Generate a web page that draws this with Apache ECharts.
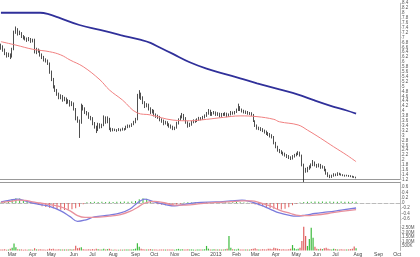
<!DOCTYPE html>
<html><head><meta charset="utf-8">
<script src="https://cdn.jsdelivr.net/npm/echarts/dist/echarts.min.js"></script>
<style>html,body{margin:0;padding:0;background:#fff}#c{width:420px;height:257px}</style>
</head><body><div id="c"></div><script>
// ---- data ----
const startDate = '2012-02-15';
const endDate = '2013-10-04';
const monthLabels = ['Jan','Feb','Mar','Apr','May','Jun','Jul','Aug','Sep','Oct','Nov','Dec'];
// [open, close, low, high], one candle per two trading days
const ohlc = [
[6.65,6.6,6.5,6.75],[6.6,6.5,6.42,6.68],[6.5,6.35,6.28,6.55],[6.35,6.25,6.18,6.4],[6.25,6.3,6.2,6.38],
[6.3,6.2,6.12,6.35],[6.2,6.5,6.18,6.58],[6.5,7.2,6.48,7.28],[7.2,7.35,7.15,7.45],[7.35,7.15,7.08,7.38],
[7.15,7.2,7.1,7.28],[7.2,7.05,6.98,7.22],[7.05,7.0,6.92,7.1],[7.0,6.95,6.88,7.05],[6.95,6.9,6.82,7.0],
[6.9,6.95,6.85,7.02],[6.95,6.85,6.78,6.98],[6.85,6.9,6.8,6.95],[6.9,6.4,6.35,6.95],[6.4,6.5,6.32,6.58],
[6.5,6.45,6.38,6.55],[6.45,6.3,6.22,6.5],[6.3,6.2,6.12,6.35],[6.2,6.1,6.02,6.25],[6.1,6.05,5.98,6.15],
[6.05,5.95,5.88,6.1],[5.95,5.6,5.52,5.98],[5.6,5.3,5.22,5.65],[5.3,5.0,4.92,5.35],[5.0,4.85,4.78,5.05],
[4.85,4.7,4.62,4.9],[4.7,4.55,4.48,4.75],[4.55,4.6,4.48,4.68],[4.6,4.45,4.38,4.65],[4.45,4.5,4.4,4.58],
[4.5,4.35,4.28,4.55],[4.35,4.4,4.3,4.48],[4.4,4.25,4.18,4.45],[4.25,4.3,4.2,4.4],[4.3,4.1,4.02,4.35],
[4.1,3.7,3.62,4.12],[3.7,3.6,3.52,3.78],[3.6,3.5,2.9,3.65],[3.5,4.2,3.48,4.3],[4.2,4.1,4.02,4.25],
[4.1,3.95,3.88,4.15],[3.95,3.9,3.82,4.0],[3.9,3.75,3.68,3.95],[3.75,3.7,3.62,3.8],[3.7,3.5,3.42,3.75],
[3.5,3.35,3.28,3.55],[3.35,3.2,3.1,3.4],[3.2,3.45,3.18,3.52],[3.45,3.35,3.28,3.5],[3.35,3.4,3.3,3.48],
[3.4,3.75,3.38,3.82],[3.75,3.55,3.48,3.78],[3.55,3.7,3.5,3.78],[3.7,3.3,3.22,3.72],[3.3,3.2,3.15,3.32],
[3.2,3.25,3.17,3.3],[3.25,3.22,3.18,3.28],[3.22,3.2,3.15,3.26],[3.2,3.25,3.18,3.3],[3.25,3.22,3.17,3.28],
[3.22,3.28,3.2,3.32],[3.28,3.25,3.2,3.3],[3.25,3.35,3.23,3.4],[3.35,3.4,3.3,3.45],[3.4,3.38,3.32,3.44],
[3.38,3.45,3.35,3.5],[3.45,3.55,3.42,3.6],[3.55,3.65,3.5,3.72],[3.65,4.6,3.62,4.7],[4.6,4.7,4.5,4.85],
[4.7,4.55,4.45,4.75],[4.55,4.35,4.28,4.6],[4.35,4.2,4.12,4.4],[4.2,4.25,4.15,4.32],[4.25,4.1,4.02,4.3],
[4.1,3.95,3.88,4.15],[3.95,4.0,3.9,4.08],[4.0,3.85,3.78,4.05],[3.85,3.8,3.72,3.9],[3.8,3.75,3.68,3.85],
[3.75,3.65,3.58,3.8],[3.65,3.6,3.52,3.7],[3.6,3.5,3.42,3.65],[3.5,3.55,3.45,3.6],[3.55,3.45,3.38,3.58],
[3.45,3.4,3.32,3.5],[3.4,3.35,3.28,3.45],[3.35,3.28,3.22,3.4],[3.28,3.3,3.22,3.36],[3.3,3.5,3.28,3.56],
[3.5,3.65,3.45,3.7],[3.65,3.75,3.6,3.82],[3.75,3.85,3.7,3.92],[3.85,3.7,3.62,3.88],[3.7,3.55,3.48,3.75],
[3.55,3.4,3.32,3.58],[3.4,3.45,3.35,3.52],[3.45,3.55,3.4,3.6],[3.55,3.6,3.5,3.66],[3.6,3.58,3.52,3.65],
[3.58,3.65,3.55,3.7],[3.65,3.7,3.6,3.76],[3.7,3.68,3.62,3.75],[3.68,3.75,3.64,3.8],[3.75,3.8,3.7,3.86],
[3.8,3.9,3.76,3.96],[3.9,4.0,3.85,4.08],[4.0,3.85,3.8,4.05],[3.85,3.9,3.8,3.96],[3.9,3.95,3.86,4.0],
[3.95,3.85,3.8,3.98],[3.85,3.9,3.8,3.95],[3.9,3.8,3.74,3.93],[3.8,3.88,3.76,3.92],[3.88,3.85,3.8,3.92],
[3.85,3.9,3.8,3.95],[3.9,3.8,3.75,3.93],[3.8,3.85,3.76,3.9],[3.85,3.95,3.82,4.0],[3.95,3.9,3.85,3.98],
[3.9,3.95,3.86,4.0],[3.95,4.05,3.92,4.1],[4.05,4.15,4.0,4.3],[4.15,4.05,4.0,4.2],[4.05,4.0,3.94,4.1],
[4.0,3.95,3.9,4.05],[3.95,3.95,3.88,4.02],[3.95,3.9,3.85,4.0],[3.9,3.9,3.84,3.96],[3.9,3.85,3.8,3.95],
[3.85,3.6,3.55,3.88],[3.6,3.4,3.35,3.62],[3.4,3.3,3.24,3.45],[3.3,3.3,3.22,3.36],[3.3,3.25,3.18,3.34],
[3.25,3.2,3.14,3.3],[3.2,3.15,3.08,3.24],[3.15,3.1,3.02,3.2],[3.1,3.05,2.98,3.14],[3.05,3.0,2.92,3.1],
[3.0,2.95,2.88,3.05],[2.95,2.7,2.64,2.98],[2.7,2.55,2.48,2.74],[2.55,2.4,2.34,2.58],[2.4,2.35,2.28,2.45],
[2.35,2.3,2.24,2.4],[2.3,2.25,2.18,2.34],[2.25,2.2,2.14,2.3],[2.2,2.15,2.08,2.24],[2.15,2.1,2.04,2.2],
[2.1,2.05,2.0,2.15],[2.05,2.15,2.02,2.2],[2.15,2.2,2.1,2.25],[2.2,2.25,2.15,2.3],[2.25,2.3,2.2,2.36],
[2.3,2.2,2.14,2.34],[2.2,1.8,1.74,2.22],[1.8,1.6,1.1,1.85],[1.6,1.55,1.48,1.68],[1.55,1.65,1.5,1.72],
[1.65,1.7,1.6,1.78],[1.7,1.8,1.66,1.86],[1.8,1.9,1.75,2.0],[1.9,1.8,1.74,1.94],[1.8,1.75,1.68,1.84],
[1.75,1.8,1.7,1.86],[1.8,1.7,1.64,1.84],[1.7,1.72,1.65,1.78],[1.72,1.6,1.54,1.75],[1.6,1.45,1.4,1.64],
[1.45,1.35,1.3,1.5],[1.35,1.3,1.26,1.4],[1.3,1.35,1.27,1.4],[1.35,1.4,1.32,1.46],[1.4,1.38,1.34,1.45],
[1.38,1.45,1.35,1.5],[1.45,1.42,1.38,1.48],[1.42,1.4,1.36,1.45],[1.4,1.38,1.34,1.42],[1.38,1.36,1.32,1.4],
[1.36,1.37,1.33,1.4],[1.37,1.35,1.31,1.39],[1.35,1.33,1.3,1.38],[1.33,1.32,1.28,1.36],[1.32,1.3,1.27,1.34],
[1.26,1.28,1.25,1.32]
];
const volume = [
0.12,0.1,0.15,0.08,0.1,0.2,0.3,0.78,0.35,0.15,
0.1,0.12,0.08,0.1,0.09,0.12,0.1,0.08,0.25,0.12,
0.1,0.15,0.12,0.1,0.09,0.12,0.2,0.15,0.18,0.12,
0.1,0.15,0.12,0.1,0.11,0.12,0.1,0.14,0.12,0.15,
0.53,0.25,0.3,0.35,0.15,0.12,0.1,0.14,0.12,0.15,
0.12,0.18,0.15,0.1,0.12,0.2,0.12,0.15,0.18,0.1,
0.08,0.1,0.09,0.08,0.1,0.09,0.1,0.12,0.1,0.11,
0.12,0.15,0.2,0.8,0.4,0.2,0.15,0.12,0.1,0.12,
0.15,0.1,0.12,0.1,0.09,0.12,0.1,0.11,0.1,0.12,
0.1,0.12,0.1,0.09,0.15,0.18,0.12,0.15,0.1,0.12,
0.14,0.1,0.12,0.1,0.09,0.1,0.12,0.1,0.11,0.15,
0.5,0.2,0.12,0.1,0.15,0.12,0.1,0.12,0.1,0.12,
0.15,0.2,1.58,0.3,0.15,0.12,0.1,0.2,0.12,0.1,
0.12,0.1,0.12,0.1,0.15,0.2,0.25,0.15,0.12,0.1,
0.15,0.12,0.1,0.18,0.2,0.15,0.3,0.25,0.2,0.15,
0.12,0.15,0.1,0.12,0.15,0.2,0.6,0.25,0.15,0.2,
0.3,1.05,2.6,1.6,0.5,1.25,2.5,1.4,0.4,0.2,
0.15,0.2,0.15,0.25,0.3,0.2,0.15,0.12,0.2,0.15,
0.12,0.1,0.15,0.1,0.12,0.1,0.12,0.15,0.2,0.45,
0.24631
];
// long moving average (blue) read at candle indices
const maSlowIdx = [0,21,25,32,42,53,64,75,80,85,92,101,110,119,128,137,149,159,167,176,185,190];
const maSlowVal = [8.01,8.01,7.96,7.78,7.51,7.31,7.1,6.9,6.78,6.59,6.33,5.99,5.73,5.53,5.33,5.13,4.88,4.67,4.45,4.22,4.02,3.8903];
// medium moving average (red)
const maFastIdx = [0,8,17,26,32,37,44,53,58,65,73,80,92,101,110,119,128,137,146,149,159,164,171,178,185,190];
const maFastVal = [6.83,6.69,6.52,6.42,6.29,6.08,5.81,5.27,4.86,4.45,3.92,3.84,3.63,3.6,3.66,3.74,3.8,3.77,3.66,3.56,3.43,3.22,2.89,2.54,2.2,1.9315];
// MACD panel
const macdIdx = [0,5,9,13,17,21,26,32,37,41,45,50,58,64,69,73,77,82,88,93,99,107,115,123,129,134,139,144,149,155,158,163,168,175,182,190];
const macdVal = [0.04,0.11,0.15,0.08,0.0,-0.06,-0.13,-0.3,-0.52,-0.7,-0.65,-0.53,-0.46,-0.38,-0.23,0.0,0.15,0.04,-0.06,-0.11,-0.04,0.02,0.04,0.08,0.11,0.04,-0.08,-0.23,-0.38,-0.48,-0.5,-0.46,-0.4,-0.34,-0.27,-0.19];
const signalVal = [0.02,0.06,0.11,0.1,0.04,0.0,-0.06,-0.15,-0.3,-0.48,-0.55,-0.55,-0.5,-0.44,-0.32,-0.17,0.0,0.06,0.0,-0.08,-0.08,-0.02,0.02,0.05,0.08,0.08,0.0,-0.11,-0.27,-0.4,-0.46,-0.48,-0.46,-0.4,-0.32,-0.2503];
// histogram at every second candle (indices 0,2,4,...,190)
const histVal = [
0.02,0.05,0.1,0.15,0.18,0.17,0.1,0.04,0.0,-0.04,
-0.08,-0.12,-0.15,-0.18,-0.2,-0.23,-0.26,-0.27,-0.26,-0.24,
-0.2,-0.14,-0.05,0.03,0.04,0.05,0.04,0.05,0.04,0.05,
0.04,0.05,0.05,0.06,0.05,0.06,0.08,0.14,0.18,0.16,
0.08,-0.01,-0.05,-0.07,-0.09,-0.09,-0.08,-0.06,-0.03,0.02,
0.03,0.02,0.03,0.02,0.03,0.04,0.03,0.02,0.03,0.02,
0.03,0.02,0.03,0.04,0.03,0.02,0.01,-0.02,-0.06,-0.09,
-0.12,-0.15,-0.19,-0.22,-0.25,-0.25,-0.22,-0.16,-0.09,-0.03,
0.02,0.04,0.05,0.05,0.06,0.05,0.06,0.05,0.06,0.05,
0.05,0.06,0.05,0.05,0.05,0.0502
];

// ---- categories: every second trading day ----
const categories = [];
(function () {
  let d = new Date(startDate + 'T00:00:00Z');
  const end = new Date(endDate + 'T00:00:00Z');
  let k = 0;
  while (d <= end) {
    const wd = d.getUTCDay();
    if (wd !== 0 && wd !== 6) { if (k % 2 === 0) categories.push(d.toISOString().slice(0, 10)); k++; }
    d = new Date(d.getTime() + 86400000);
  }
})();

const pairs = (idx, val) => idx.map((x, i) => [x, val[i]]);
const histData = histVal.map((v, i) => [i * 2, v]);
const last = a => a[a.length - 1];
const FS = 4.5;
const FF = 'Liberation Sans';

function endTag(value, text, bg, fg) {
  return {
    silent: true, symbol: ['none', 'none'], animation: false,
    lineStyle: { opacity: 0 },
    label: { show: true, position: 'end', distance: 1, formatter: text, backgroundColor: bg, color: fg,
      fontSize: FS, fontFamily: FF, padding: [1, 1.5] },
    data: [{ yAxis: value }]
  };
}

const monthStart = (idx) => idx > 0 && categories[idx].slice(5, 7) !== categories[idx - 1].slice(5, 7);
const hidden = { show: false };
const commonX = (gi) => ({ type: 'category', gridIndex: gi, data: categories, boundaryGap: true,
  axisLabel: hidden, axisTick: hidden, splitLine: hidden });

const chart = echarts.init(document.getElementById('c'), null, { renderer: 'canvas' });
chart.setOption({
  animation: false,
  backgroundColor: '#fff',
  textStyle: { fontFamily: FF },
  grid: [
    { left: 0, right: 20, top: 3.2, height: 176.4 },
    { left: 0, right: 20, top: 182, height: 42 },
    { left: 0, right: 20, top: 225, height: 26.7 }
  ],
  xAxis: [
    Object.assign(commonX(0), { axisLine: { lineStyle: { color: '#999', width: 1 } } }),
    Object.assign(commonX(1), { axisLine: { lineStyle: { color: '#bbb', type: 'dashed', width: 1 } } }),
    Object.assign(commonX(2), {
      axisLine: { show: false },
      axisTick: { show: false },
      axisLabel: { show: true, interval: (i) => monthStart(i), fontSize: 5, color: '#444', margin: 1.5,
        formatter: (v) => { const m = +v.slice(5, 7); return m === 1 ? v.slice(0, 4) : monthLabels[m - 1]; } }
    }),
    Object.assign(commonX(1), { position: 'top', axisLine: { lineStyle: { color: '#999', width: 1 } } })
  ],
  yAxis: [
    { type: 'value', gridIndex: 0, position: 'right', min: 1.2, max: 8.4, interval: 0.2,
      axisLine: { show: true, lineStyle: { color: '#bbb' } }, axisTick: { show: true, length: 1.5, lineStyle: { color: '#bbb' } },
      splitLine: hidden,
      axisLabel: { fontSize: FS, color: '#555', margin: 2, formatter: v => String(+v.toFixed(1)) } },
    { type: 'value', gridIndex: 1, position: 'right', min: -0.8, max: 0.8, interval: 0.2,
      axisLine: { show: true, lineStyle: { color: '#bbb' } }, axisTick: { show: true, length: 1.5, lineStyle: { color: '#bbb' } },
      splitLine: hidden,
      axisLabel: { fontSize: FS, color: '#555', margin: 2, showMinLabel: false, showMaxLabel: false, formatter: v => String(+v.toFixed(1)) } },
    { type: 'value', gridIndex: 2, position: 'right', min: 0, max: 2.8, interval: 0.5,
      axisLine: { show: true, lineStyle: { color: '#bbb' } }, axisTick: { show: true, length: 1.5, lineStyle: { color: '#bbb' } },
      splitLine: hidden,
      axisLabel: { fontSize: FS, color: '#555', margin: 2, showMinLabel: false,
        formatter: v => v >= 1 ? v.toFixed(2) + 'M' : (v * 1000).toFixed(0) + 'K' } }
  ],
  series: [
    { type: 'candlestick', name: 'price', xAxisIndex: 0, yAxisIndex: 0, data: ohlc, barWidth: 1.2, clip: true,
      itemStyle: { color: '#ffffff', color0: '#222', borderColor: '#222', borderColor0: '#222', borderWidth: 0.8 },
      markLine: endTag(last(ohlc)[1], last(ohlc)[1].toFixed(2), '#f5c518', '#000') },
    { type: 'line', name: 'MA slow', xAxisIndex: 0, yAxisIndex: 0, data: pairs(maSlowIdx, maSlowVal),
      smooth: 0.4, symbol: 'none', lineStyle: { color: '#30309a', width: 1.8 },
      markLine: endTag(last(maSlowVal), last(maSlowVal).toFixed(4), '#c9c9f2', '#2e3192') },
    { type: 'line', name: 'MA fast', xAxisIndex: 0, yAxisIndex: 0, data: pairs(maFastIdx, maFastVal),
      smooth: 0.4, symbol: 'none', lineStyle: { color: '#f08080', width: 1 },
      markLine: endTag(last(maFastVal), last(maFastVal).toFixed(4), '#fbd3d3', '#d84040') },
    { type: 'bar', name: 'hist', xAxisIndex: 1, yAxisIndex: 1, data: histData, barWidth: 1,
      itemStyle: { color: p => p.value[1] >= 0 ? '#3dbb3d' : '#e06060' },
      markLine: endTag(last(histVal), last(histVal).toFixed(4), '#c9f0c9', '#2a9a2a') },
    { type: 'line', name: 'MACD', xAxisIndex: 1, yAxisIndex: 1, data: pairs(macdIdx, macdVal),
      smooth: 0.4, symbol: 'none', lineStyle: { color: '#7b7bdc', width: 1.3 } },
    { type: 'line', name: 'signal', xAxisIndex: 1, yAxisIndex: 1, data: pairs(macdIdx, signalVal),
      smooth: 0.4, symbol: 'none', lineStyle: { color: '#e8909c', width: 1.3 },
      markLine: endTag(last(signalVal), last(signalVal).toFixed(4), '#fbd3d3', '#d84040') },
    { type: 'bar', name: 'volume', xAxisIndex: 2, yAxisIndex: 2, data: volume, barWidth: 1.2,
      itemStyle: { color: p => ohlc[p.dataIndex][1] >= ohlc[p.dataIndex][0] ? '#3dbb3d' : '#e06060' },
      markLine: endTag(last(volume), (last(volume) * 1000).toFixed(2) + 'K', '#c9f0c9', '#2a9a2a') }
  ]
});
</script></body></html>
